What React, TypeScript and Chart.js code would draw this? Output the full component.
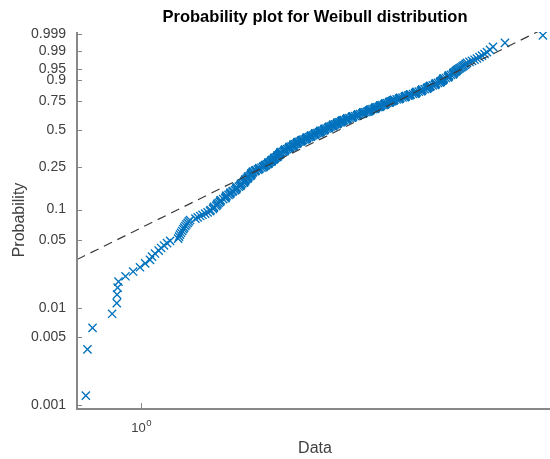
import React, { useEffect, useRef } from "react";
import { Chart, registerables } from "chart.js";

Chart.register(...registerables);

const TITLE = "Probability plot for Weibull distribution";
const X_LABEL = "Data";
const Y_LABEL = "Probability";

const PROB_TICKS = [0.001, 0.005, 0.01, 0.05, 0.1, 0.25, 0.5, 0.75, 0.9, 0.95, 0.99, 0.999];
const PROB_TICK_LABELS = ["0.001", "0.005", "0.01", "0.05", "0.1", "0.25", "0.5", "0.75", "0.9", "0.95", "0.99", "0.999"];

const X_TICKS = [1];
const X_TICK_BASE = ["10"];
const X_TICK_EXP = ["0"];

const X_MIN = 0.782;
const X_MAX = 4.806;
const Y_MIN_T = -6.98;
const Y_MAX_T = 1.98;

// Weibull fit (reference line)
const FIT_SCALE = 2.4;
const FIT_SHAPE = 3.07;

// sorted sample values (400 observations)
const SAMPLE = [
  0.809, 0.814, 0.830, 0.895, 0.911, 0.912, 0.914, 0.917, 0.942, 0.970,
  0.996, 1.016, 1.035, 1.043, 1.055, 1.070, 1.080, 1.092, 1.105, 1.118,
  1.153, 1.157, 1.161, 1.166, 1.171, 1.176, 1.180, 1.185, 1.190, 1.196, 1.201, 1.207,
  1.232, 1.243, 1.255, 1.266, 1.279, 1.291, 1.303,
  1.306, 1.318, 1.321, 1.323, 1.334, 1.339, 1.340, 1.347, 1.354,
  1.356, 1.358, 1.371, 1.382, 1.384, 1.386, 1.388, 1.399, 1.407, 1.409, 1.411, 1.420, 1.424,
  1.434, 1.440, 1.441, 1.443, 1.444, 1.455, 1.463, 1.466, 1.467, 1.468, 1.475, 1.484, 1.486, 1.487, 1.491,
  1.492, 1.493, 1.499, 1.506, 1.507, 1.508, 1.509, 1.517, 1.524, 1.525, 1.526, 1.527, 1.528, 1.533, 1.536, 1.537,
  1.548, 1.552, 1.553, 1.565, 1.572, 1.574, 1.575, 1.588, 1.598, 1.600, 1.602, 1.610,
  1.612, 1.613, 1.622, 1.629, 1.630, 1.631, 1.632, 1.640, 1.648, 1.650, 1.651, 1.652, 1.656, 1.664,
  1.667, 1.668, 1.669, 1.670, 1.679, 1.686, 1.688, 1.689, 1.690, 1.691, 1.698, 1.701, 1.703, 1.705,
  1.707, 1.708, 1.709, 1.710, 1.722, 1.731, 1.735, 1.736, 1.737, 1.738,
  1.739, 1.751, 1.762, 1.765, 1.766, 1.767, 1.768, 1.770, 1.781, 1.790,
  1.793, 1.794, 1.795, 1.796, 1.797, 1.808, 1.817, 1.820, 1.821, 1.822,
  1.823, 1.825, 1.836, 1.846, 1.849, 1.851, 1.853, 1.858, 1.862,
  1.874, 1.884, 1.887, 1.888, 1.889, 1.890, 1.891, 1.904, 1.916, 1.919,
  1.920, 1.921, 1.922, 1.934, 1.946, 1.949, 1.950, 1.951, 1.952, 1.953,
  1.966, 1.977, 1.983, 1.985, 1.988,
  1.990, 1.991, 1.992, 2.004, 2.017, 2.021, 2.022, 2.023, 2.024, 2.025,
  2.038, 2.051, 2.055, 2.056, 2.057, 2.058, 2.059, 2.072, 2.085, 2.089,
  2.090, 2.091, 2.092, 2.093, 2.106, 2.119, 2.123, 2.124, 2.125, 2.126,
  2.127, 2.140, 2.152, 2.156, 2.158, 2.160, 2.162, 2.167, 2.171,
  2.180, 2.196, 2.201, 2.203, 2.205, 2.207, 2.209, 2.226, 2.243, 2.248,
  2.250, 2.252, 2.254, 2.256, 2.274, 2.290, 2.295, 2.297, 2.299, 2.301,
  2.303, 2.320, 2.337, 2.342, 2.344, 2.346, 2.348, 2.350, 2.367, 2.383,
  2.390, 2.395, 2.399, 2.404, 2.408,
  2.411, 2.413, 2.415, 2.432, 2.449, 2.454, 2.456, 2.458, 2.460, 2.462,
  2.479, 2.496, 2.501, 2.503, 2.505, 2.507, 2.509, 2.526, 2.543, 2.548,
  2.550, 2.552, 2.554, 2.556, 2.573, 2.590, 2.595, 2.597, 2.599, 2.608,
  2.617, 2.624, 2.630,
  2.636, 2.640, 2.644, 2.668, 2.690, 2.695, 2.698, 2.701, 2.704, 2.728,
  2.750, 2.755, 2.758, 2.761, 2.764, 2.788, 2.800, 2.807,
  2.810, 2.813, 2.840, 2.862, 2.867, 2.870, 2.873, 2.876, 2.879, 2.904,
  2.928, 2.933, 2.936, 2.939, 2.942, 2.945, 2.970, 2.994, 2.999, 3.002,
  3.005, 3.015, 3.025, 3.032,
  3.035, 3.038, 3.064, 3.088, 3.093, 3.096, 3.099, 3.102, 3.126, 3.150,
  3.155, 3.158, 3.161, 3.172, 3.181, 3.187,
  3.190, 3.193, 3.196, 3.222, 3.247, 3.252, 3.255, 3.258, 3.261, 3.286,
  3.311, 3.316, 3.319, 3.322, 3.335, 3.348, 3.356, 3.363,
  3.377, 3.392, 3.406, 3.421, 3.436, 3.450, 3.465, 3.479, 3.494,
  3.528, 3.562, 3.597, 3.631,
  3.667, 3.702, 3.738, 3.773, 3.817, 3.861, 4.043, 4.677,
];

const FONT = "'Liberation Sans', Arial, Helvetica, sans-serif";
const MARKER_COLOR = "#0072BD";
const AXIS_COLOR = "#888888";
const TEXT_COLOR = "#404040";

// Weibull probability-paper transform
const weibullT = (p: number) => Math.log(-Math.log(1 - p));

export default function App() {
  const ref = useRef<HTMLCanvasElement>(null);

  useEffect(() => {
    document.body.style.margin = "0";
    const canvas = ref.current;
    if (!canvas) return;

    const n = SAMPLE.length;
    const points = SAMPLE.map((v, i) => ({ x: v, y: weibullT((i + 0.5) / n) }));
    const fitY = (x: number) => FIT_SHAPE * (Math.log(x) - Math.log(FIT_SCALE));
    const fitLine = [X_MIN, X_MAX].map((x) => ({ x, y: fitY(x) }));

    const decor = {
      id: "decor",
      afterDraw(chart: any) {
        const ctx = chart.ctx;
        const area = chart.chartArea;
        const xs = chart.scales.x;
        const ys = chart.scales.y;
        ctx.save();
        // axis lines
        ctx.strokeStyle = AXIS_COLOR;
        ctx.lineWidth = 2;
        ctx.beginPath();
        ctx.moveTo(area.left, area.top);
        ctx.lineTo(area.left, area.bottom + 1);
        ctx.lineTo(area.right, area.bottom + 1);
        ctx.stroke();
        // y ticks (inward)
        ctx.lineWidth = 1;
        ctx.beginPath();
        PROB_TICKS.forEach((p) => {
          const y = Math.round(ys.getPixelForValue(weibullT(p))) + 0.5;
          ctx.moveTo(area.left, y);
          ctx.lineTo(area.left + 5, y);
        });
        // x ticks (inward)
        X_TICKS.forEach((v) => {
          const x = Math.round(xs.getPixelForValue(v)) + 0.5;
          ctx.moveTo(x, area.bottom);
          ctx.lineTo(x, area.bottom - 5);
        });
        ctx.stroke();

        // x tick labels 10^k
        ctx.fillStyle = TEXT_COLOR;
        ctx.textBaseline = "alphabetic";
        X_TICKS.forEach((v, i) => {
          const x = xs.getPixelForValue(v);
          ctx.font = `13px ${FONT}`;
          const wb = ctx.measureText(X_TICK_BASE[i]).width;
          ctx.font = `9.5px ${FONT}`;
          const we = ctx.measureText(X_TICK_EXP[i]).width;
          const start = x - (wb + we) / 2;
          ctx.font = `13px ${FONT}`;
          ctx.textAlign = "left";
          ctx.fillText(X_TICK_BASE[i], start, 432);
          ctx.font = `9.5px ${FONT}`;
          ctx.fillText(X_TICK_EXP[i], start + wb + 0.5, 426);
        });

        // x label
        ctx.font = `16px ${FONT}`;
        ctx.textAlign = "center";
        ctx.fillText(X_LABEL, 315, 453);

        // y label
        ctx.save();
        ctx.translate(23.5, (area.top + area.bottom) / 2);
        ctx.rotate(-Math.PI / 2);
        ctx.textAlign = "center";
        ctx.fillText(Y_LABEL, 0, 0);
        ctx.restore();

        // title
        ctx.fillStyle = "#000000";
        ctx.font = `bold 16.5px ${FONT}`;
        ctx.textAlign = "center";
        ctx.fillText(TITLE, 315, 22);
        ctx.restore();
      },
    };

    const chart = new Chart(canvas, {
      type: "scatter",
      data: {
        datasets: [
          {
            label: "fit",
            data: fitLine,
            showLine: true,
            borderColor: "#3a3a3a",
            borderWidth: 1.2,
            borderDash: [9, 6],
            pointRadius: 0,
            fill: false,
            order: 0,
          },
          {
            label: "data",
            data: points,
            showLine: false,
            pointStyle: "crossRot",
            pointRadius: 5.8,
            pointBorderWidth: 1.35,
            borderColor: MARKER_COLOR,
            backgroundColor: MARKER_COLOR,
            order: 1,
          },
        ],
      },
      options: {
        responsive: false,
        animation: false,
        devicePixelRatio: 1,
        layout: { autoPadding: false, padding: { top: 32, right: 0, bottom: 0, left: 0 } },
        plugins: {
          legend: { display: false },
          tooltip: { enabled: false },
          title: { display: false },
        },
        scales: {
          x: {
            type: "logarithmic",
            min: X_MIN,
            max: X_MAX,
            ticks: { display: false },
            grid: { display: false },
            border: { display: false },
            afterFit: (scale: any) => {
              scale.height = 51;
            },
          },
          y: {
            type: "linear",
            min: Y_MIN_T,
            max: Y_MAX_T,
            grid: { display: false, drawTicks: false },
            border: { display: false },
            ticks: {
              autoSkip: false,
              padding: 11,
              color: TEXT_COLOR,
              font: { family: FONT, size: 14 },
              callback: (_v: any, i: number) => PROB_TICK_LABELS[i],
            },
            afterBuildTicks: (scale: any) => {
              scale.ticks = PROB_TICKS.map((p) => ({ value: weibullT(p) }));
            },
            afterFit: (scale: any) => {
              scale.width = 77;
            },
          },
        },
      },
      plugins: [decor],
    } as any);

    return () => chart.destroy();
  }, []);

  return (
    <div style={{ position: "absolute", left: 0, top: 0, width: 550, height: 459 }}>
      <canvas ref={ref} width={550} height={459} style={{ display: "block" }} />
    </div>
  );
}
